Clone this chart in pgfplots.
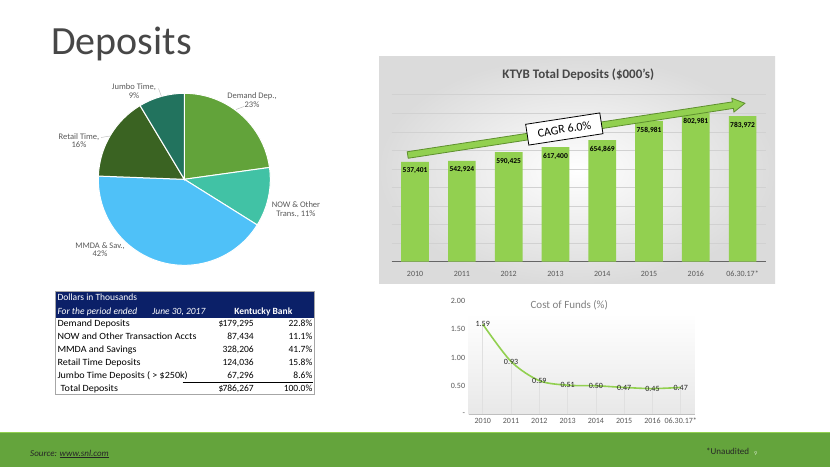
\documentclass[border=0pt]{standalone}
\usepackage{pgfplots}
\pgfplotsset{compat=1.18}
\usepackage{fontspec}
\setmainfont{Carlito}
\definecolor{bargreen}{HTML}{92D050}
\definecolor{darkgreen}{HTML}{5E8F2E}
\definecolor{band}{HTML}{64A43C}
\definecolor{navy}{HTML}{0B2068}
\definecolor{piegreen}{HTML}{62A33A}
\definecolor{pieteal}{HTML}{41C2A5}
\definecolor{pieblue}{HTML}{4FC1F8}
\definecolor{piedkgreen}{HTML}{3A6322}
\definecolor{piedkteal}{HTML}{22735E}
\definecolor{txtgray}{HTML}{595959}
\definecolor{titlegray}{HTML}{474747}
\newcommand{\fs}[1]{\fontsize{#1}{#1}\selectfont}
\newcommand{\wide}[1]{\scalebox{1.06}[1]{#1}}
\begin{document}
\begin{tikzpicture}
\begin{scope}[x=1pt,y=1pt]
\useasboundingbox (0,0) rectangle (830,467);
\fill[white] (0,0) rectangle (830,467);
% ---- slide title
\node[anchor=base west, font=\fs{40}, text=titlegray, inner sep=0] at (51,412) {Deposits};
% ---- bottom band
\fill[band] (0,0) rectangle (830,34);
\fill[bargreen] (0,34) rectangle (830,35.5);
\node[anchor=base west, font=\fs{9}\itshape, text=black!85, inner sep=0] at (30,11) {Source: \underline{www.snl.com}};
\node[anchor=base west, font=\fs{9}, text=black!85, inner sep=0] at (706,13) {*Unaudited};
\node[anchor=base west, font=\fs{6}, text=white!70!band, inner sep=0] at (754,12) {9};

% ---- pie chart
\foreach \a/\b/\c in {0/22.8/piegreen, 22.8/33.9/pieteal, 33.9/75.6/pieblue, 75.6/91.4/piedkgreen, 91.4/100/piedkteal}{
  \pgfmathsetmacro\sa{90-\a*3.6}
  \pgfmathsetmacro\ea{90-\b*3.6}
  \fill[\c, draw=white, line width=1pt] (184.3,287.7) -- ++(\sa:86) arc[start angle=\sa, end angle=\ea, radius=86] -- cycle;
}
\begin{scope}[font=\fs{8.5}, text=txtgray]
\node[align=center] at (252,367) {Demand Dep.,\\23\%};
\node[align=center] at (296,257.5) {NOW \& Other\\Trans., 11\%};
\node[align=center] at (100,217.5) {MMDA \& Sav.,\\42\%};
\node[align=center] at (79,326.5) {Retail Time,\\16\%};
\node[align=center] at (134,376) {Jumbo Time,\\9\%};
\end{scope}
\draw[gray!60, line width=0.4pt] (236,357.5) -- (244,360.5);
\draw[gray!60, line width=0.4pt] (101,329.5) -- (110,331);
\draw[gray!60, line width=0.4pt] (158.5,378.5) -- (161.5,370.5);

% ---- table
\fill[navy] (55,148.7) rectangle (314,175.3);
\draw[gray!70, line width=0.5pt] (55,72.7) rectangle (314,175.3);
\begin{scope}[font=\fs{9.5}, inner sep=0]
\node[anchor=mid west, text=white] at (57.3,168.7) {Dollars in Thousands};
\node[anchor=mid west, text=white, font=\fs{9.5}\itshape] at (57.3,155.3) {For the period ended\hspace{1.6em}June 30, 2017};
\node[anchor=mid, text=white, font=\fs{9.5}\bfseries] at (263.3,155.3) {Kentucky Bank};
\node[anchor=mid west] at (57.3,143.3) {\wide{Demand Deposits}};
\node[anchor=mid west] at (57.3,130) {\wide{NOW and Other Transaction Accts}};
\node[anchor=mid west] at (57.3,116.7) {\wide{MMDA and Savings}};
\node[anchor=mid west] at (57.3,104.3) {\wide{Retail Time Deposits}};
\node[anchor=mid west] at (57.3,91) {\wide{Jumbo Time Deposits ( > \$250k)}};
\node[anchor=mid west] at (60.5,78.3) {\wide{Total Deposits}};
\node[anchor=mid west] at (218.3,143.3) {\$};
\node[anchor=mid west] at (218.3,78.3) {\$};
\node[anchor=mid east] at (254,143.3) {179,295};
\node[anchor=mid east] at (254,130) {87,434};
\node[anchor=mid east] at (254,116.7) {328,206};
\node[anchor=mid east] at (254,104.3) {124,036};
\node[anchor=mid east] at (254,91) {67,296};
\node[anchor=mid east] at (254,78.3) {786,267};
\node[anchor=mid east] at (312.5,143.3) {22.8\%};
\node[anchor=mid east] at (312.5,130) {11.1\%};
\node[anchor=mid east] at (312.5,116.7) {41.7\%};
\node[anchor=mid east] at (312.5,104.3) {15.8\%};
\node[anchor=mid east] at (312.5,91) {8.6\%};
\node[anchor=mid east] at (312.5,78.3) {100.0\%};
\end{scope}
\draw[black, line width=0.5pt] (182.7,85) -- (312.7,85);

% ---- bar chart panel
\shade[inner color=white, outer color=black!14] (379,184) rectangle (775,410);
\node[font=\fs{13}\bfseries, text=titlegray] at (578.3,392) {KTYB Total Deposits (\$000’s)};
% ---- line chart background and title
\shade[top color=white, bottom color=black!9] (468.6,53) rectangle (694.9,154);
\node[font=\fs{11}, text=black!50] at (569.3,162) {Cost of Funds (\%)};
\end{scope}

\begin{axis}[at={(391.7pt,205.3pt)}, anchor=south west, scale only axis,
  width=374.3pt, height=167pt,
  ybar, bar width=27.7pt,
  xmin=-0.5, xmax=7.5, ymin=0, ymax=900000,
  ytick={0,100000,...,900000}, yticklabels={}, scaled y ticks=false,
  ymajorgrids, grid style={black!18, line width=0.6pt},
  axis x line*=bottom, y axis line style={draw=none},
  x axis line style={draw=black!60, line width=1pt},
  xtick=data, xticklabels={2010,2011,2012,2013,2014,2015,2016,06.30.17*},
  tick style={draw=none},
  x tick label style={font=\fs{8}, text=txtgray, text height=5.5pt, text depth=0pt},
  /pgf/number format/assume math mode=true,
  nodes near coords={\pgfmathprintnumber[fixed,precision=0,1000 sep={,}]{\pgfplotspointmeta}},
  every node near coord/.append style={anchor=north, font=\fs{7.5}\bfseries, text=black, yshift=-2.5pt},
  xticklabel style={yshift=-1pt},
]
\addplot[fill=bargreen, draw=none] coordinates {(0,537401) (1,542924) (2,590425) (3,617400) (4,654869) (5,758981) (6,802981) (7,783972)};
\end{axis}

\begin{scope}[x=1pt,y=1pt]
% arrow
\begin{scope}[shift={(407.7,312)}, rotate=8.72]
\fill[bargreen, draw=darkgreen, line width=0.8pt] (0,-3.3) -- (329,-3.3) -- (329,-7) -- (341.2,0) -- (329,7) -- (329,3.3) -- (0,3.3) -- cycle;
\end{scope}
\node[draw=black, line width=0.8pt, fill=white, rotate=8.72, minimum width=75pt, minimum height=21pt, font=\fs{12}, inner sep=0] at (564.3,338) {CAGR 6.0\%};
\end{scope}

\begin{axis}[at={(468.6pt,53pt)}, anchor=south west, scale only axis,
  width=226.3pt, height=113pt,
  xmin=-0.5, xmax=7.5, ymin=0, ymax=2,
  ytick={0,0.5,1,1.5,2}, yticklabels={-,0.50,1.00,1.50,2.00},
  axis x line*=bottom, y axis line style={draw=none},
  x axis line style={draw=black!25, line width=0.6pt},
  xtick=data, xticklabels={2010,2011,2012,2013,2014,2015,2016,06.30.17*},
  tick style={draw=none},
  x tick label style={font=\fs{8}, text=txtgray, text height=5.5pt, text depth=0pt},
  y tick label style={font=\fs{8}, text=txtgray},
  /pgf/number format/assume math mode=true,
  clip=false,
]
\addplot[ycomb, draw=black!12, line width=0.6pt, mark=none] coordinates {(0,1.59) (1,0.93) (2,0.59) (3,0.51) (4,0.50) (5,0.47) (6,0.45) (7,0.47)};
\addplot[smooth, draw=bargreen, line width=1.6pt, mark=none,
  nodes near coords={\pgfmathprintnumber[fixed,fixed zerofill,precision=2]{\pgfplotspointmeta}},
  every node near coord/.append style={anchor=center, font=\fs{8}, text=black!85}]
  coordinates {(0,1.59) (1,0.93) (2,0.59) (3,0.51) (4,0.50) (5,0.47) (6,0.45) (7,0.47)};
\end{axis}
\end{tikzpicture}
\end{document}
